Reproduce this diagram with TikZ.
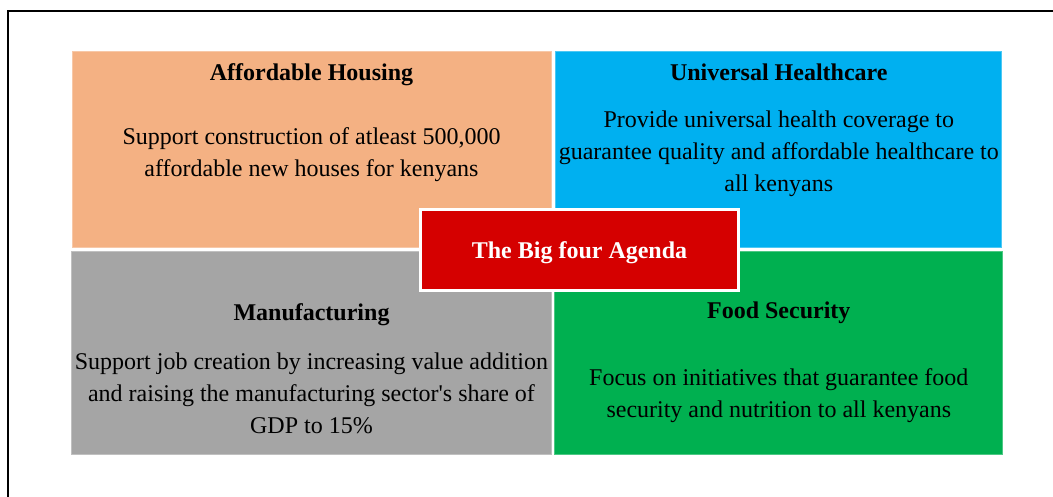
\documentclass[tikz,border=0pt]{standalone}
\usepackage{fontspec}
\setmainfont{Liberation Serif}
\usetikzlibrary{positioning}

\definecolor{housing}{HTML}{F4B183}
\definecolor{health}{HTML}{00B0F0}
\definecolor{manuf}{HTML}{A5A5A5}
\definecolor{food}{HTML}{00B050}
\definecolor{agenda}{HTML}{D50000}

\begin{document}
\begin{tikzpicture}[x=1pt, y=-1pt, node distance=4pt,
    quad/.style={rectangle, inner sep=0pt, line width=0.8pt, minimum height=196pt},
    head/.style={font=\bfseries\fontsize{24}{32}\selectfont, anchor=base},
    body/.style={font=\fontsize{24}{32}\selectfont, align=center, anchor=base}]

\useasboundingbox (0,0) rectangle (1053,497);
\draw [line width=2.5pt] (8,497) -- (8,11) -- (1053,11);

% the four quarters
\node (house) [quad, fill=housing, draw=housing!70!white, minimum width=479pt] at (311.5,149) {};
\node (health) [quad, fill=health, draw=health!70!white, minimum width=446pt, right=4pt of house] {};
\node (manuf) [quad, fill=manuf, draw=manuf!70!white, minimum width=480pt, minimum height=203pt, below=4pt of house] {};
\node (food) [quad, fill=food, draw=food!70!white, minimum width=448pt, minimum height=203pt, below=4pt of health] {};

% texts (body nodes sit on their last line)
\node (houseT) [head] at ([yshift=-30pt]house.north) {Affordable Housing};
\node (houseB) [body] at ([yshift=-126pt]house.north) {Support construction of atleast 500,000\\affordable new houses for kenyans};

\node (healthT) [head] at ([yshift=-30pt]health.north) {Universal Healthcare};
\node (healthB) [body] at ([yshift=-141pt]health.north) {Provide universal health coverage to\\guarantee quality and affordable healthcare to\\all kenyans};

\node (manufT) [head] at ([yshift=-69pt]manuf.north) {Manufacturing};
\node (manufB) [body] at ([yshift=-182pt]manuf.north) {Support job creation by increasing value addition\\and raising the manufacturing sector\textquotesingle s share of\\GDP to 15\%};

\node (foodT) [head] at ([yshift=-67pt]food.north) {Food Security};
\node (foodB) [body] at ([yshift=-166pt]food.north) {Focus on initiatives that guarantee food\\security and nutrition to all kenyans};

% centre box
\node (agendaBox) [fill=agenda, draw=white, line width=3pt, minimum width=318pt, minimum height=81pt,
    text=white, text depth=0pt, font=\bfseries\fontsize{24}{32}\selectfont] at (579.5,250) {The Big four Agenda};
\end{tikzpicture}
\end{document}
